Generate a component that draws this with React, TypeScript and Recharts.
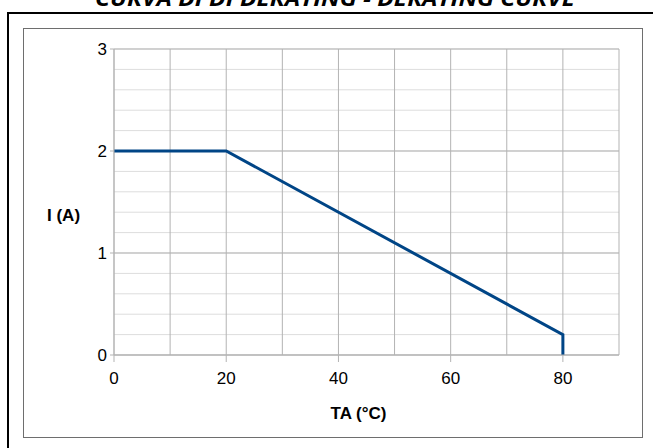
import { LineChart, Line, XAxis, YAxis, CartesianGrid, Label } from "recharts";

const temps = [0, 20, 80, 80];
const currents = [2, 2, 0.2, 0];
const xTicks = [0, 20, 40, 60, 80];
const xGrid = [0, 10, 20, 30, 40, 50, 60, 70, 80, 90];
const yTicks = [0, 1, 2, 3];
const yMinor = [0, 0.2, 0.4, 0.6, 0.8, 1, 1.2, 1.4, 1.6, 1.8, 2, 2.2, 2.4, 2.6, 2.8, 3];

const TITLE = "CURVA DI DI DERATING - DERATING CURVE";
const Y_LABEL = "I (A)";
const X_LABEL = "TA (°C)";

const LINE_COLOR = "#004586";
const MAJOR_GRID = "#b3b3b3";
const MINOR_GRID = "#dddddd";
const FONT = "'Liberation Sans', Arial, sans-serif";

const data = temps.map((t, i) => ({ t, i: currents[i] }));

const X_MAX = 90;
const Y_MAX = 3;

function scaleOf(axis: any) {
  return axis && typeof axis.scale === "function" ? axis.scale : null;
}

export default function App() {
  return (
    <div
      style={{
        position: "absolute",
        left: 0,
        top: 0,
        width: 653,
        height: 448,
        overflow: "hidden",
        background: "#fff",
        fontFamily: FONT,
      }}
    >
      {/* outer black frame, runs off the page right and bottom */}
      <div
        style={{
          position: "absolute",
          left: 7,
          top: 12,
          width: 700,
          height: 500,
          border: "2px solid #000",
        }}
      />
      {/* inner grey frame */}
      <div
        style={{
          position: "absolute",
          left: 23,
          top: 28,
          width: 618,
          height: 408,
          border: "1px solid #6e6e6e",
        }}
      />
      <svg
        width={653}
        height={448}
        style={{ position: "absolute", left: 0, top: 0, pointerEvents: "none" }}
      >
        {/* title is clipped by the top edge, as in the source image */}
        <text
          x={95}
          y={6}
          textLength={480}
          lengthAdjust="spacingAndGlyphs"
          fontFamily="'Open Sans', 'Liberation Sans', sans-serif"
          fontSize={22}
          fontWeight="bold"
          fontStyle="italic"
          fill="#000"
        >
          {TITLE}
        </text>
      </svg>
      <div style={{ position: "absolute", left: 0, top: 0 }}>
        <LineChart
          width={653}
          height={448}
          data={data}
          margin={{ top: 49, right: 34, bottom: 0, left: 54 }}
        >
          <CartesianGrid
            stroke={MINOR_GRID}
            vertical={false}
            horizontalCoordinatesGenerator={({ yAxis, offset }: any) => {
              const s = scaleOf(yAxis);
              return yMinor.map((v) =>
                s ? s(v) : offset.top + offset.height * (1 - v / Y_MAX)
              );
            }}
          />
          <CartesianGrid
            stroke={MAJOR_GRID}
            horizontalCoordinatesGenerator={({ yAxis, offset }: any) => {
              const s = scaleOf(yAxis);
              return yTicks.map((v) =>
                s ? s(v) : offset.top + offset.height * (1 - v / Y_MAX)
              );
            }}
            verticalCoordinatesGenerator={({ xAxis, offset }: any) => {
              const s = scaleOf(xAxis);
              return xGrid.map((v) =>
                s ? s(v) : offset.left + offset.width * (v / X_MAX)
              );
            }}
          />
          <XAxis
            type="number"
            dataKey="t"
            domain={[0, X_MAX]}
            ticks={xTicks}
            interval={0}
            height={93}
            tickSize={7}
            tickMargin={10}
            axisLine={{ stroke: MAJOR_GRID }}
            tickLine={{ stroke: MAJOR_GRID }}
            tick={{ fill: "#000", fontSize: 17, fontFamily: FONT }}
          >
            <Label
              content={({ viewBox }: any) => (
                <text
                  x={viewBox.x + viewBox.width / 2 - 8}
                  y={viewBox.y + 64}
                  textAnchor="middle"
                  fontFamily={FONT}
                  fontSize={17}
                  fontWeight="bold"
                  fill="#000"
                >
                  {X_LABEL}
                </text>
              )}
            />
          </XAxis>
          <YAxis
            type="number"
            domain={[0, Y_MAX]}
            ticks={yTicks}
            interval={0}
            width={60}
            tickSize={4}
            tickMargin={3}
            axisLine={{ stroke: MAJOR_GRID }}
            tickLine={{ stroke: MAJOR_GRID }}
            tick={{ fill: "#000", fontSize: 17, fontFamily: FONT }}
          >
            <Label
              content={({ viewBox }: any) => (
                <text
                  x={viewBox.x - 7}
                  y={viewBox.y + viewBox.height / 2 + 19}
                  textAnchor="start"
                  fontFamily={FONT}
                  fontSize={17}
                  fontWeight="bold"
                  fill="#000"
                >
                  {Y_LABEL}
                </text>
              )}
            />
          </YAxis>
          <Line
            type="linear"
            dataKey="i"
            stroke={LINE_COLOR}
            strokeWidth={3}
            dot={false}
            activeDot={false}
            isAnimationActive={false}
          />
        </LineChart>
      </div>
    </div>
  );
}
